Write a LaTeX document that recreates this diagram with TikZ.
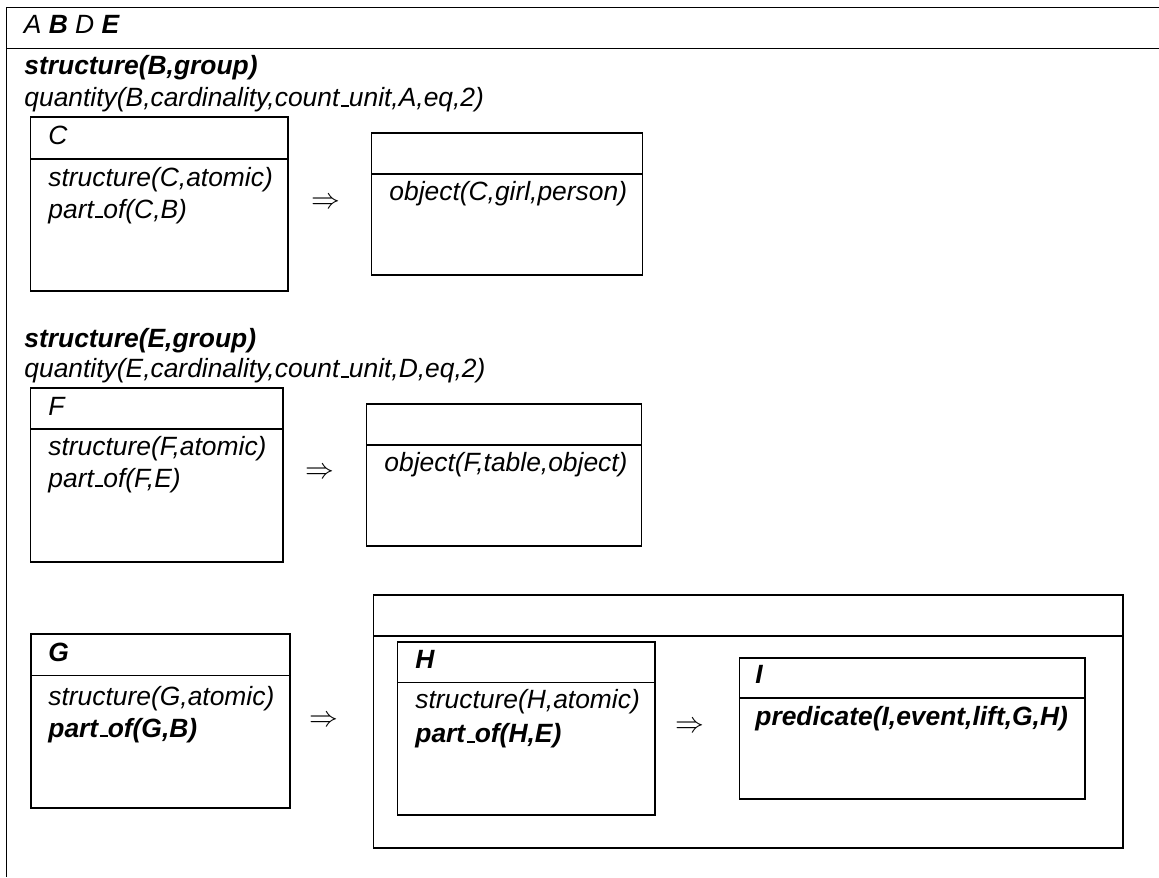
\documentclass[tikz,border=0pt]{standalone}
\usepackage{fontspec}
\setmainfont{Liberation Sans}
\newcommand{\drsfont}{\fontsize{13.2}{15.8}\selectfont}
\newcommand{\usc}{\leavevmode\kern.06em\vbox{\hrule width.3em height 0.9pt}}

\begin{document}
\begin{tikzpicture}[x=0.5pt,y=-0.5pt,
    frame/.style={line width=0.75pt},
    lbl/.style={anchor=base west,inner sep=0pt,font=\drsfont\itshape},
    lblb/.style={lbl,font=\drsfont\bfseries\itshape},
    imply/.style={inner sep=0pt,font=\fontsize{13.6}{16}\selectfont}]
    \useasboundingbox (0,0) rectangle (1159,877);

    % Outer box (runs off the right and bottom)
    \draw[frame] (1159,7.5) -- (6.5,7.5) -- (6.5,877);
    \draw[frame] (6.5,48.5) -- (1159,48.5);
    \node[lbl] (refs) at (23.5,33.3) {A \textbf{B} D \textbf{E}};

    % First group
    \node[lblb] (grpB) at (24,75)  {structure(B,group)};
    \node[lbl]  (qtyB) at (24,107) {quantity(B,cardinality,count\usc unit,A,eq,2)};

    \draw[frame] (30.5,117) rectangle (288,291);
    \draw[frame] (30.5,159) -- (288,159);
    \node[lbl] (refC)   at (48,145) {C};
    \node[lbl] (condC1) at (48,186) {structure(C,atomic)};
    \node[lbl] (condC2) at (48,218) {part\usc of(C,B)};

    \node[imply] (impC) at (326,203) {$\Rightarrow$};

    \draw[frame] (371.5,133) rectangle (642.5,275);
    \draw[frame] (371.5,174) -- (642.5,174);
    \node[lbl] (objC) at (389,200) {object(C,girl,person)};

    % Second group
    \node[lblb] (grpE) at (24,347)   {structure(E,group)};
    \node[lbl]  (qtyE) at (24,377.5) {quantity(E,cardinality,count\usc unit,D,eq,2)};

    \draw[frame] (30.5,388) rectangle (283,562);
    \draw[frame] (30.5,429) -- (283,429);
    \node[lbl] (refF)   at (48,415) {F};
    \node[lbl] (condF1) at (48,455) {structure(F,atomic)};
    \node[lbl] (condF2) at (48,487) {part\usc of(F,E)};

    \node[imply] (impF) at (320,473) {$\Rightarrow$};

    \draw[frame] (366.5,404) rectangle (641.5,546);
    \draw[frame] (366.5,445) -- (641.5,445);
    \node[lbl] (objF) at (384,471) {object(F,table,object)};

    % Third group
    \draw[frame] (31,634) rectangle (290,808);
    \draw[frame] (31,675.5) -- (290,675.5);
    \node[lblb] (refG)   at (48,661) {G};
    \node[lbl]  (condG1) at (48,705) {structure(G,atomic)};
    \node[lblb] (condG2) at (48,737) {part\usc of(G,B)};

    \node[imply] (impG) at (324,721) {$\Rightarrow$};

    \draw[frame] (373.5,595) rectangle (1123,848);
    \draw[frame] (373.5,636) -- (1123,636);

    \draw[frame] (397.5,642) rectangle (655,815);
    \draw[frame] (397.5,682.5) -- (655,682.5);
    \node[lblb] (refH)   at (415,668) {H};
    \node[lbl]  (condH1) at (415,708) {structure(H,atomic)};
    \node[lblb] (condH2) at (415,742.5) {part\usc of(H,E)};

    \node[imply] (impH) at (690,727) {$\Rightarrow$};

    \draw[frame] (739.5,658) rectangle (1085,799);
    \draw[frame] (739.5,698) -- (1085,698);
    \node[lblb] (refI)  at (755,683) {I};
    \node[lblb] (predI) at (755,725) {predicate(I,event,lift,G,H)};
\end{tikzpicture}
\end{document}
